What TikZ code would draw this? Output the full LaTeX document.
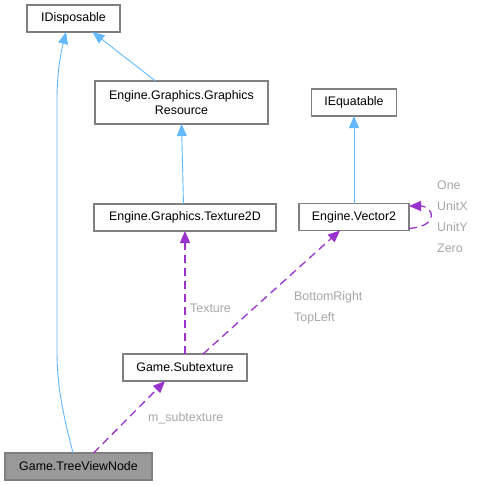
\documentclass[tikz,border=0pt]{standalone}
\usepackage{fontspec}
\setmainfont{Liberation Sans}
\usetikzlibrary{arrows.meta}
\definecolor{inhblue}{HTML}{63B8FF}
\definecolor{usepurple}{HTML}{9A32CD}
\definecolor{boxborder}{HTML}{808080}
\definecolor{lblgray}{HTML}{A6A6A6}
\definecolor{curfill}{HTML}{999999}
\tikzset{
  cls/.style={draw=boxborder, line width=1.2pt, fill=white, inner sep=0pt, outer sep=0pt,
     font=\fontsize{12.4}{14.5}\selectfont, align=center, minimum height=27pt},
  inh/.style={draw=inhblue, line width=0.9pt, -{Triangle[length=12pt,width=10pt,fill=inhblue]}},
  uses/.style={draw=usepurple, line width=1.3pt, dash pattern=on 8pt off 5pt, -{Triangle[length=12pt,width=10pt,fill=usepurple]}},
  lbl/.style={text=lblgray, font=\fontsize{12.4}{14.5}\selectfont, inner sep=0pt, anchor=west}
}
\begin{document}
\begin{tikzpicture}[x=1pt,y=-1pt]
\useasboundingbox (0,0) rectangle (480,485);
\node[cls, minimum width=93pt] (idisp) at (73.5,18.5) {IDisposable};
\node[cls, minimum width=173pt, minimum height=43pt] (gres) at (181.5,102.5) {Engine.Graphics.Graphics\\Resource};
\node[cls, minimum width=85pt] (ieq) at (354,102.5) {IEquatable};
\node[cls, minimum width=110pt] (vec) at (354,217) {Engine.Vector2};
\node[cls, minimum width=182pt] (tex) at (185,217.5) {Engine.Graphics.Texture2D};
\node[cls, minimum width=124pt] (sub) at (185,367.5) {Game.Subtexture};
\node[cls, minimum width=147pt, fill=curfill] (tvn) at (78.5,466.5) {Game.TreeViewNode};

% inheritance
\draw[inh] ([xshift=-5.5pt]tvn.north) .. controls (62,410) and (57,385) .. (57,350) -- (57,100) .. controls (57,72) and (61,52) .. ([xshift=-7.5pt]idisp.south);
\draw[inh] ([xshift=-26pt]gres.north) -- ([xshift=19pt]idisp.south);
\draw[inh] ([xshift=-1.5pt]tex.north) -- (gres.south);
\draw[inh] (vec.north) -- (ieq.south);

% usage
\draw[uses] (sub.north) -- (tex.south);
\node[lbl] (ltex) at (190,308) {Texture};
\draw[uses] ([xshift=18pt]sub.north) -- ([xshift=-14pt]vec.south);
\node[lbl] (lbr) at (294,297) {BottomRight};
\node[lbl] (ltl) at (294,318) {TopLeft};
\draw[uses] ([xshift=15pt]tvn.north) -- ([xshift=-20pt]sub.south);
\node[lbl] (lms) at (148,418) {m\_subtexture};
\draw[uses] ([yshift=2pt]vec.south east) .. controls (426,227) and (433,221) .. (431,213) .. controls (429,207) and (422,206) .. ([yshift=11pt]vec.east);
\node[lbl] (lone) at (437,185) {One};
\node[lbl] (lux) at (437,206) {UnitX};
\node[lbl] (luy) at (437,227) {UnitY};
\node[lbl] (lz) at (437,248) {Zero};
\end{tikzpicture}
\end{document}
